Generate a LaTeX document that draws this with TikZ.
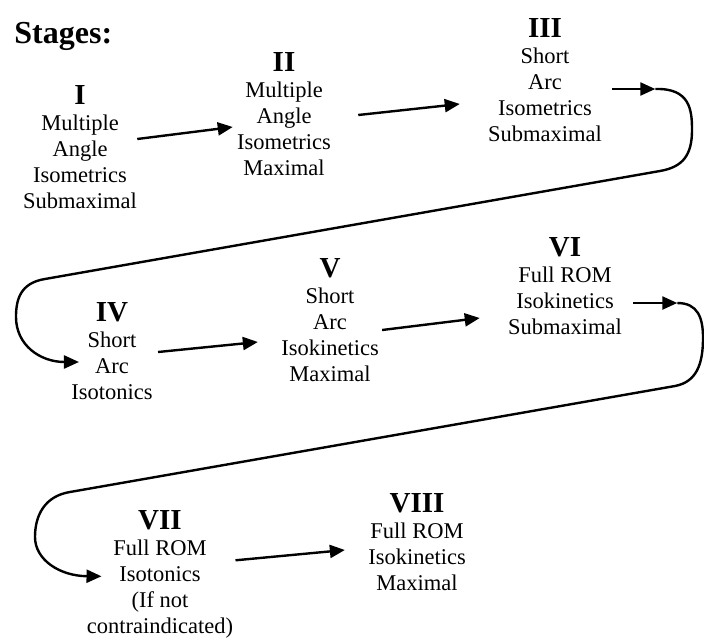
\documentclass[tikz,border=0pt]{standalone}
\usepackage{fontspec}
\setmainfont{Liberation Serif}
\usetikzlibrary{arrows.meta,positioning,calc}

\newcommand{\stagenum}[1]{{\fontsize{14.5}{13}\selectfont\bfseries #1}}

\begin{document}
\begin{tikzpicture}[x=0.5pt, y=-0.5pt,
    stage/.style={align=center, inner sep=0pt, anchor=north, font=\fontsize{11.25}{13}\selectfont},
    flow/.style={-{Triangle[length=7.5pt,width=6.5pt]}, line width=1.2pt}
]
    \useasboundingbox (0,0) rectangle (704,641);

    % Title
    \node[anchor=base west, inner sep=0pt, font=\fontsize{16}{19}\selectfont\bfseries] (title) at (14,44) {Stages:};

    % Stages
    \node[stage] (s1) at (80,85)   {\stagenum{I}\\Multiple\\Angle\\Isometrics\\Submaximal};
    \node[stage] (s2) at (284,52)  {\stagenum{II}\\Multiple\\Angle\\Isometrics\\Maximal};
    \node[stage] (s3) at (545,18)  {\stagenum{III}\\Short\\Arc\\Isometrics\\Submaximal};
    \node[stage] (s4) at (112,302) {\stagenum{IV}\\Short\\Arc\\Isotonics};
    \node[stage] (s5) at (330,258) {\stagenum{V}\\Short\\Arc\\Isokinetics\\Maximal};
    \node[stage] (s6) at (565,237) {\stagenum{VI}\\Full ROM\\Isokinetics\\Submaximal};
    \node[stage] (s7) at (160,510) {\stagenum{VII}\\Full ROM\\Isotonics\\(If not\\contraindicated)};
    \node[stage] (s8) at (417,493) {\stagenum{VIII}\\Full ROM\\Isokinetics\\Maximal};

    % Row 1
    \draw[flow] ($(s1.east)+(0,-8)$) -- ($(s2.west)+(-4,13)$);
    \draw[flow] ($(s2.east)+(27,1)$) -- ($(s3.west)+(-28,24)$);
    \draw[flow] ($(s3.east)+(10,9)$) -- ++(43,0) coordinate (t3);

    % Turn down to row 2
    \draw[flow] (t3) .. controls (690,88) and (692,110) .. (692,130)
        .. controls (692,155) and (683,167) .. (660,171) -- (45,279)
        .. controls (20,283) and (16,300) .. (16,317)
        .. controls (16,345) and (40,362) .. ($(s4.west)+(8,11)$);

    % Row 2
    \draw[flow] ($(s4.east)+(5,1)$) -- ($(s5.west)+(-23,22)$);
    \draw[flow] ($(s5.east)+(3,10)$) -- ($(s6.west)+(-28,32)$);
    \draw[flow] ($(s6.east)+(11,17)$) -- ++(44,0) coordinate (t6);

    % Turn down to row 3
    \draw[flow] (t6) .. controls (698,303) and (703,318) .. (703,338)
        .. controls (703,365) and (696,382) .. (675,386) -- (70,492)
        .. controls (45,496) and (35,515) .. (35,537)
        .. controls (35,560) and (60,576) .. ($(s7.west)+(15,2)$);

    % Row 3
    \draw[flow] ($(s7.east)+(2,-14)$) -- ($(s8.west)+(-23,8)$);
\end{tikzpicture}
\end{document}
